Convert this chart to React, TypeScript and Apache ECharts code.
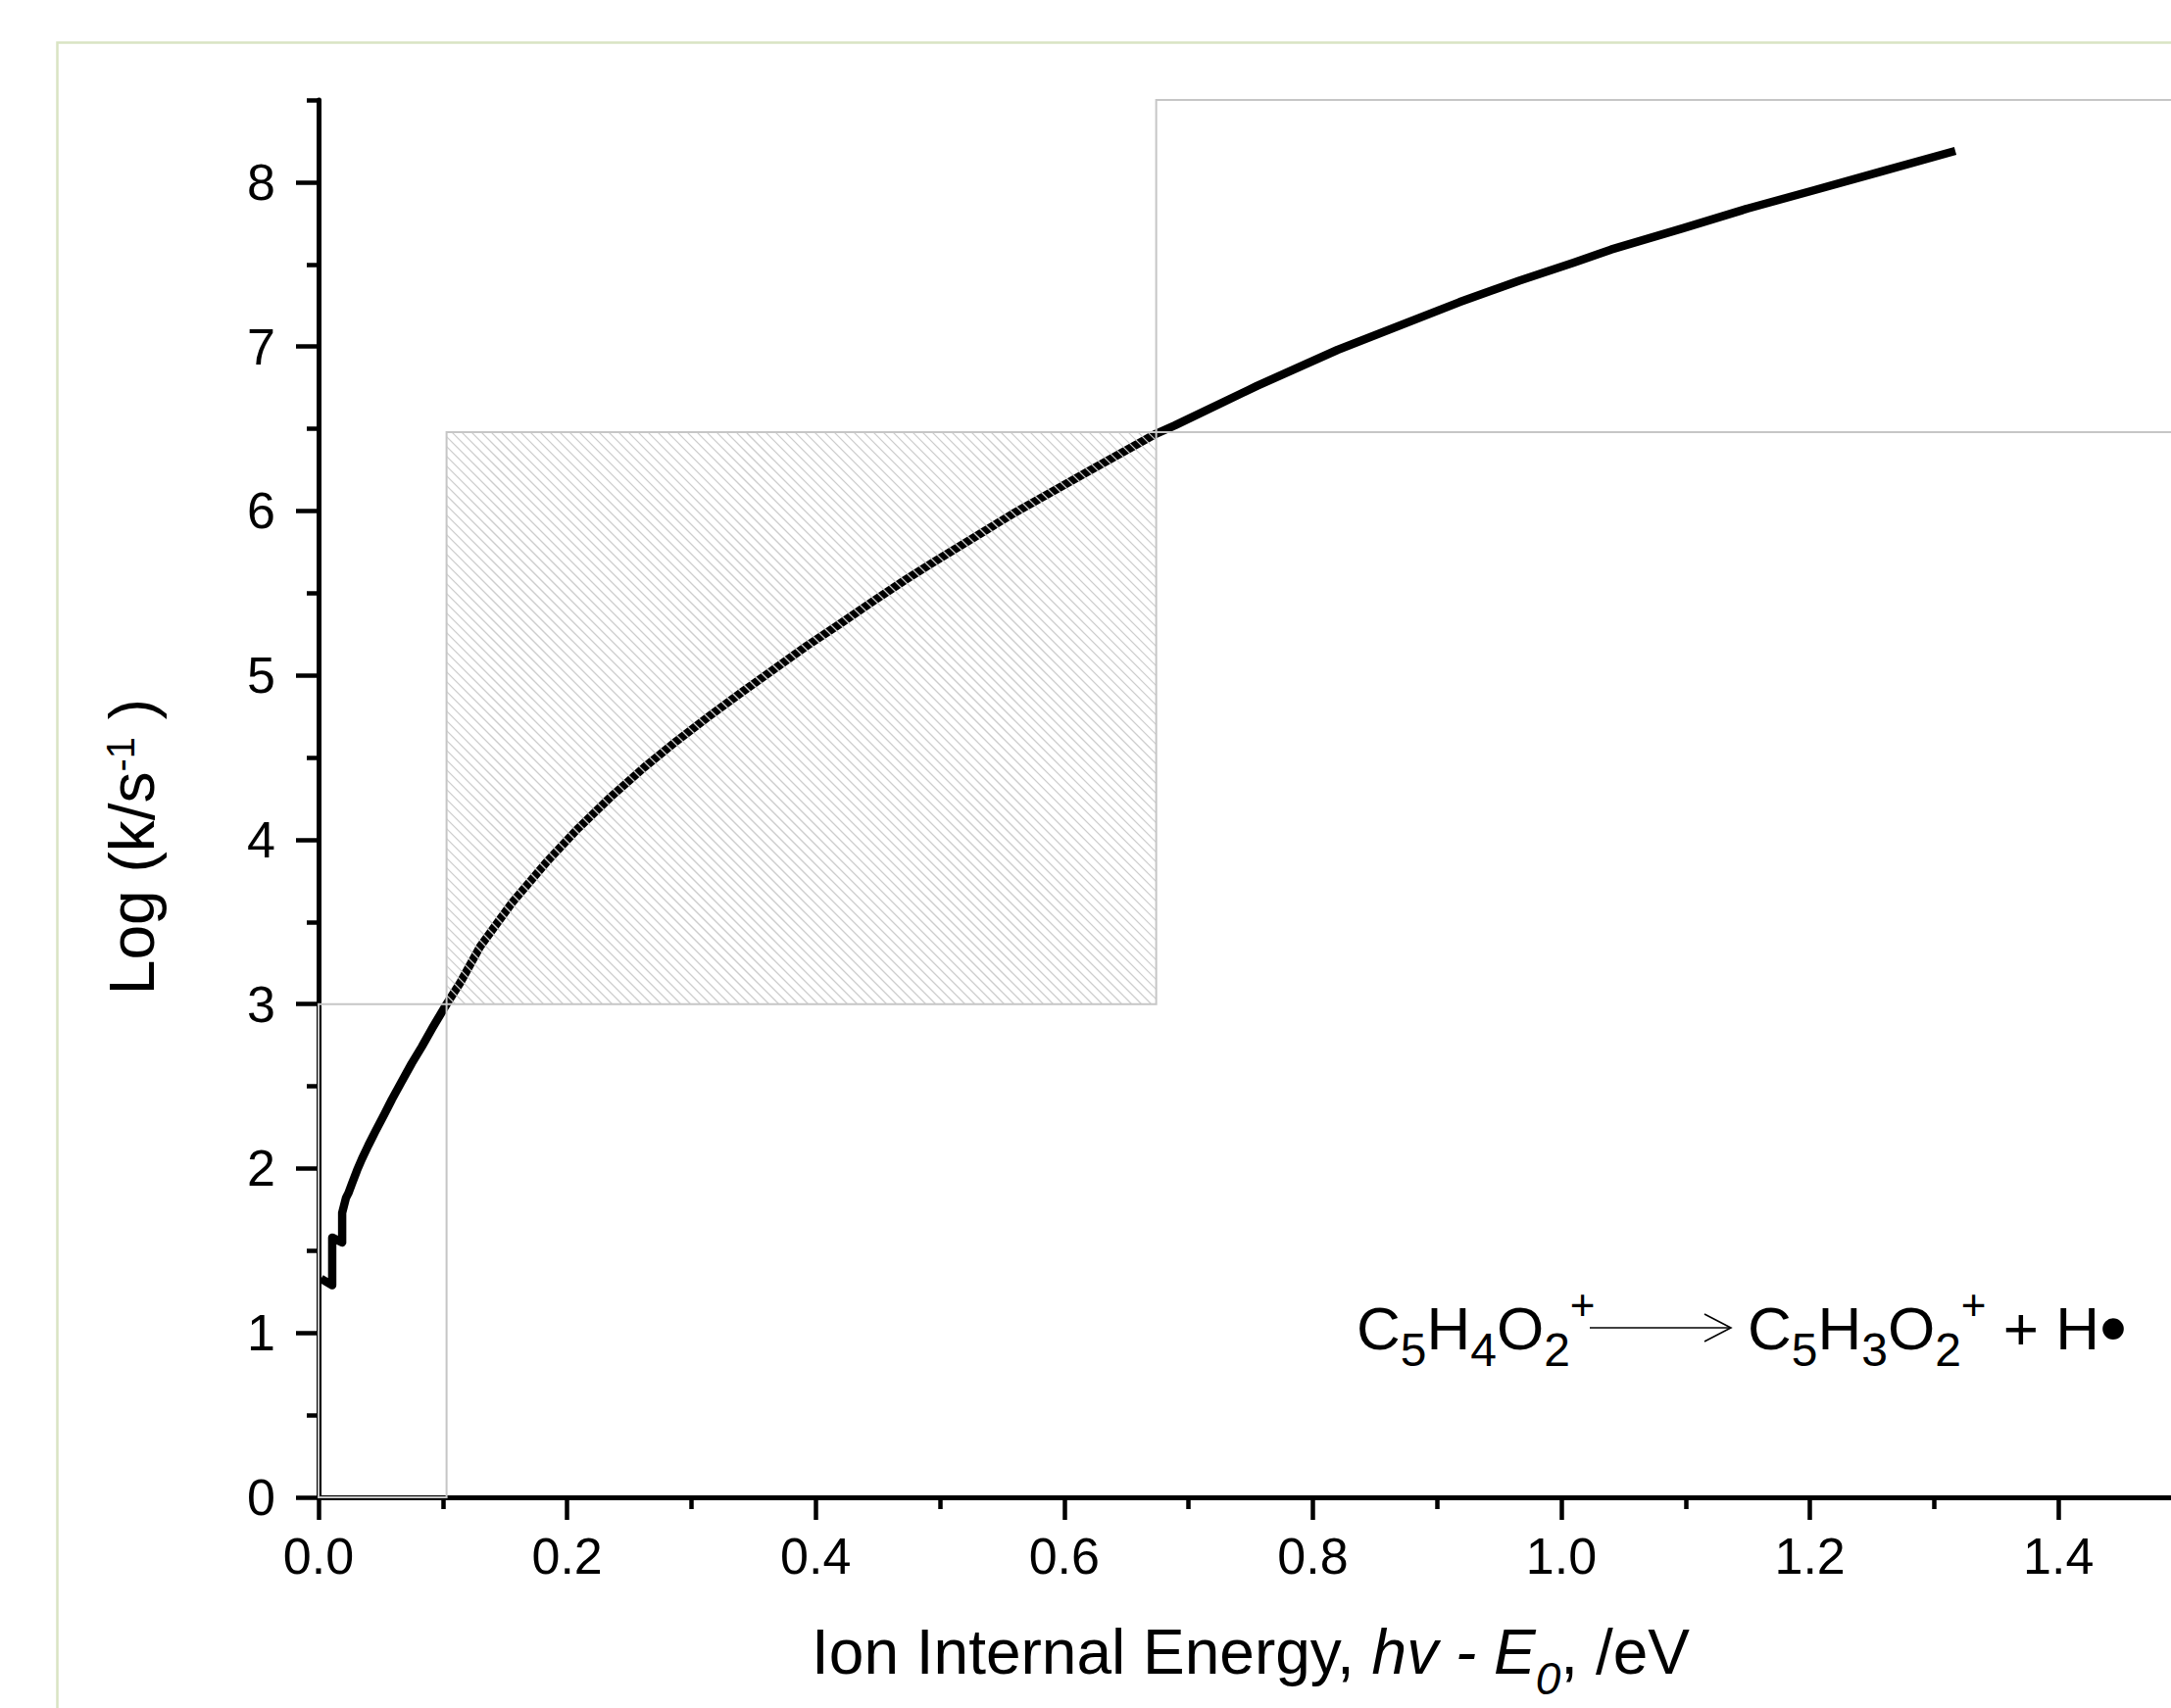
import React, { useEffect, useRef } from "react";
import * as echarts from "echarts";

// ---- data ----
const energy = [
  0.002, 0.011, 0.011, 0.019, 0.019, 0.022, 0.024, 0.027, 0.031, 0.035, 0.04, 0.046, 0.053, 0.059, 0.067,
  0.075, 0.083, 0.092, 0.103, 0.114, 0.13, 0.156, 0.183, 0.209, 0.235, 0.262, 0.288, 0.314, 0.341, 0.367,
  0.393, 0.419, 0.446, 0.472, 0.493, 0.558, 0.624, 0.674, 0.689, 0.755, 0.82, 0.918, 0.966, 1.01, 1.04,
  1.098, 1.15, 1.203, 1.255, 1.317,
];
const logK = [
  1.33, 1.29, 1.58, 1.55, 1.73, 1.82, 1.85, 1.91, 1.99, 2.06, 2.14, 2.23, 2.33, 2.42, 2.53,
  2.64, 2.74, 2.86, 3.0, 3.13, 3.35, 3.62, 3.86, 4.07, 4.26, 4.44, 4.6, 4.75, 4.9, 5.04,
  5.18, 5.31, 5.45, 5.58, 5.68, 5.98, 6.26, 6.47, 6.52, 6.76, 6.98, 7.27, 7.4, 7.51, 7.59,
  7.72, 7.84, 7.95, 8.06, 8.19,
];

const xMajorTicks = [0, 0.2, 0.4, 0.6, 0.8, 1.0, 1.2, 1.4];
const xMinorTicks = [0.1, 0.3, 0.5, 0.7, 0.9, 1.1, 1.3, 1.5];
const yMajorTicks = [0, 1, 2, 3, 4, 5, 6, 7, 8];
const yMinorTicks = [0.5, 1.5, 2.5, 3.5, 4.5, 5.5, 6.5, 7.5, 8.5];

const X_MIN = 0;
const X_MAX = 1.5;
const Y_MIN = 0;
const Y_MAX = 8.5;

// energy windows (boxes): x0, y0, x1, y1, hatched
const boxX0 = [0.103, 0.674, 0];
const boxY0 = [3.0, 6.48, 0];
const boxX1 = [0.674, 1.5, 0.103];
const boxY1 = [6.48, 8.5, 3.0];
const boxHatched = [1, 0, 0];

const FONT = "'Liberation Sans', Arial, Helvetica, sans-serif";

export default function App() {
  const ref = useRef<HTMLDivElement>(null);

  useEffect(() => {
    if (!ref.current) return;
    const chart = echarts.init(ref.current, null, { renderer: "svg" });

    const boxData = boxX0.map((v, i) => [v, boxY0[i], boxX1[i], boxY1[i], boxHatched[i]]);
    const curve = energy.map((x, i) => [x, logK[i]]);

    const mainTick = { color: "#000", width: 4.5 };

    const main = { fontSize: 62, fontFamily: FONT, lineHeight: 92, fill: "#000" };
    const sub = { fontSize: 48, fontFamily: FONT, lineHeight: 48, verticalAlign: "bottom", fill: "#000" };
    const sup = { fontSize: 44, fontFamily: FONT, lineHeight: 44, verticalAlign: "top", fill: "#000" };

    const option: any = {
      animation: false,
      backgroundColor: "#fff",
      grid: {
        left: 325,
        top: 102,
        right: -12,
        bottom: 215,
        containLabel: false,
        outerBoundsMode: "none",
      },
      xAxis: [
        {
          type: "value",
          min: X_MIN,
          max: X_MAX,
          position: "bottom",
          axisLine: { show: true, onZero: false, lineStyle: { color: "#000", width: 5 } },
          axisTick: { show: true, customValues: xMajorTicks, length: 23, lineStyle: mainTick },
          axisLabel: {
            show: true,
            customValues: xMajorTicks,
            formatter: (v: number) => v.toFixed(1),
            fontSize: 52,
            fontFamily: FONT,
            color: "#000",
            margin: 34,
          },
          splitLine: { show: false },
        },
        {
          type: "value",
          min: X_MIN,
          max: X_MAX,
          position: "bottom",
          axisLine: { show: false, onZero: false },
          axisTick: { show: true, customValues: xMinorTicks, length: 12, lineStyle: mainTick },
          axisLabel: { show: false },
          splitLine: { show: false },
        },
      ],
      yAxis: [
        {
          type: "value",
          min: Y_MIN,
          max: Y_MAX,
          position: "left",
          axisLine: { show: true, onZero: false, lineStyle: { color: "#000", width: 5 } },
          axisTick: { show: true, customValues: yMajorTicks, length: 23, lineStyle: mainTick },
          axisLabel: {
            show: true,
            customValues: yMajorTicks,
            formatter: (v: number) => String(v),
            fontSize: 52,
            fontFamily: FONT,
            color: "#000",
            margin: 44,
          },
          splitLine: { show: false },
        },
        {
          type: "value",
          min: Y_MIN,
          max: Y_MAX,
          position: "left",
          axisLine: { show: false, onZero: false },
          axisTick: { show: true, customValues: yMinorTicks, length: 12, lineStyle: mainTick },
          axisLabel: { show: false },
          splitLine: { show: false },
        },
      ],
      series: [
        {
          type: "line",
          data: curve,
          xAxisIndex: 0,
          yAxisIndex: 0,
          symbol: "none",
          showSymbol: false,
          lineStyle: { color: "#000", width: 8.5, cap: "butt", join: "round" },
          z: 2,
          clip: false,
        },
        {
          type: "custom",
          xAxisIndex: 0,
          yAxisIndex: 0,
          data: boxData,
          encode: { x: [0, 2], y: [1, 3] },
          clip: false,
          z: 3,
          silent: true,
          renderItem: (params: any, api: any) => {
            const a = api.coord([api.value(0), api.value(3)]);
            const b = api.coord([api.value(2), api.value(1)]);
            const L = a[0], T = a[1], R = b[0], B = b[1];
            const children: any[] = [];
            if (api.value(4)) {
              const s = 10;
              for (let c = Math.ceil((L - B) / s) * s; c <= R - T; c += s) {
                const xs = Math.max(L, T + c);
                const xe = Math.min(R, B + c);
                if (xe > xs) {
                  children.push({
                    type: "line",
                    shape: { x1: xs, y1: xs - c, x2: xe, y2: xe - c },
                    style: { stroke: "#cdcdcd", lineWidth: 1.3 },
                  });
                }
              }
            }
            children.push({
              type: "rect",
              shape: { x: L, y: T, width: R - L, height: B - T },
              style: { fill: "none", stroke: "#c6c6c6", lineWidth: 2 },
            });
            return { type: "group", children };
          },
        },
      ],
      graphic: [
        {
          type: "rect",
          left: 56,
          top: 41,
          shape: { x: 0, y: 0, width: 3000, height: 3000 },
          style: { fill: "none", stroke: "#d9e4c3", lineWidth: 2.5 },
          z: 0,
          silent: true,
        },
        // x axis title
        {
          type: "text",
          x: 1276,
          y: 1686,
          z: 10,
          style: {
            text: "{a|Ion Internal Energy, }{i|hv - E}{s|0}{a|, /eV}",
            align: "center",
            verticalAlign: "middle",
            fill: "#000",
            rich: {
              a: { fontSize: 64, fontFamily: FONT, lineHeight: 100, fill: "#000" },
              i: { fontSize: 64, fontFamily: FONT, fontStyle: "italic", lineHeight: 100, fill: "#000" },
              s: { fontSize: 46, fontFamily: FONT, fontStyle: "italic", lineHeight: 46, verticalAlign: "bottom", fill: "#000" },
            },
          },
        },
        // y axis title
        {
          type: "text",
          x: 135,
          y: 864,
          rotation: Math.PI / 2,
          z: 10,
          style: {
            text: "{a|Log (k/s}{p|-1}{a| )}",
            align: "center",
            verticalAlign: "middle",
            fill: "#000",
            rich: {
              a: { fontSize: 64, fontFamily: FONT, lineHeight: 64, fill: "#000" },
              p: { fontSize: 40, fontFamily: FONT, lineHeight: 44, verticalAlign: "top", fill: "#000" },
            },
          },
        },
        // reaction, left side
        {
          type: "text",
          x: 1384,
          y: 1355,
          z: 10,
          style: {
            text: "{a|C}{s|5}{a|H}{s|4}{a|O}{s|2}{p|+}",
            align: "left",
            verticalAlign: "middle",
            fill: "#000",
            rich: { a: main, s: sub, p: sup },
          },
        },
        // reaction, right side
        {
          type: "text",
          x: 1783,
          y: 1355,
          z: 10,
          style: {
            text: "{a|C}{s|5}{a|H}{s|3}{a|O}{s|2}{p|+}{a| + H}{b|•}",
            align: "left",
            verticalAlign: "middle",
            fill: "#000",
            rich: {
              a: main,
              s: sub,
              p: sup,
              b: { fontSize: 80, fontFamily: FONT, lineHeight: 80, verticalAlign: "middle", fill: "#000" },
            },
          },
        },
        // reaction arrow
        {
          type: "line",
          z: 10,
          shape: { x1: 1622, y1: 1355, x2: 1765, y2: 1355 },
          style: { stroke: "#000", lineWidth: 1.6 },
        },
        {
          type: "polyline",
          z: 10,
          shape: { points: [[1739, 1341], [1766, 1355], [1739, 1369]] },
          style: { stroke: "#000", lineWidth: 1.6, fill: "none" },
        },
      ],
    };

    chart.setOption(option);
    return () => chart.dispose();
  }, []);

  return (
    <div
      ref={ref}
      style={{ position: "absolute", left: 0, top: 0, width: 2215, height: 1743, background: "#fff" }}
    />
  );
}
